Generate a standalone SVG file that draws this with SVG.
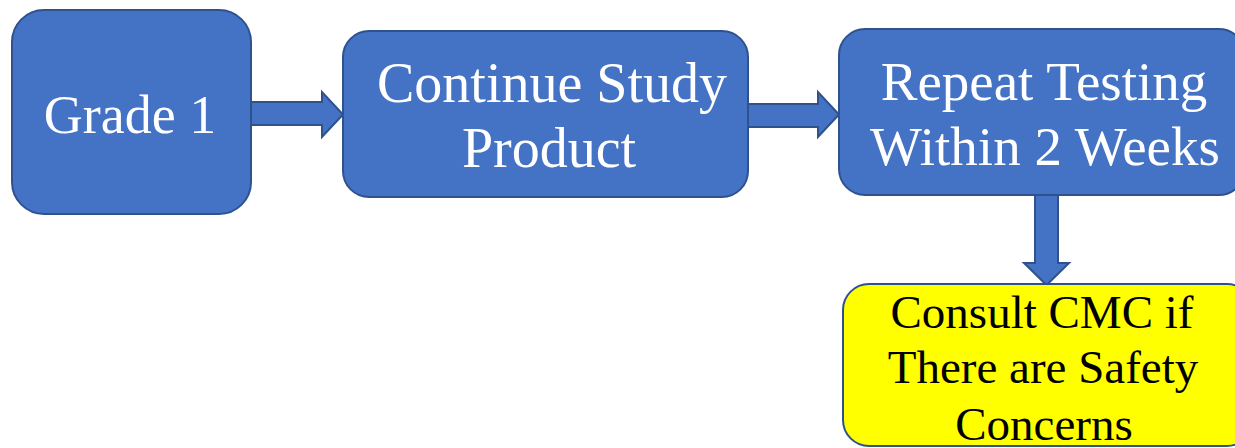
<svg xmlns="http://www.w3.org/2000/svg" width="1235" height="448" viewBox="0 0 1235 448">
  <style>
    .box { fill: #4472C4; stroke: #2F528F; stroke-width: 2; }
    .warn { fill: #FFFF00; stroke: #2F528F; stroke-width: 2; }
    .arrow { fill: #4472C4; stroke: #2F528F; stroke-width: 2; stroke-linejoin: miter; }
    .lbl { fill: #FFFFFF; text-anchor: middle; }
    .lbl-dark { font-size: 47px; fill: #000000; text-anchor: middle; }
  </style>
  <rect width="1235" height="448" fill="#FFFFFF"/>

  <!-- block arrows between steps -->
  <g id="connectors">
    <path class="arrow" d="M251,102 L322,102 L322,92 L343,114.5 L322,137 L322,125 L251,125 Z"/>
    <path class="arrow" d="M748,104 L818,104 L818,92 L839,114.5 L818,137 L818,127 L748,127 Z"/>
    <path class="arrow" d="M1035,195 L1058,195 L1058,263 L1069,263 L1046.5,285 L1024,263 L1035,263 Z"/>
  </g>

  <g font-family="Liberation Serif, serif">
    <g id="grade1">
      <rect class="box" x="12" y="10" width="239" height="204" rx="32" ry="32"/>
      <text class="lbl" x="130" y="133" font-size="54">Grade 1</text>
    </g>

    <g id="continue">
      <rect class="box" x="343" y="31" width="405" height="166" rx="26" ry="26"/>
      <text class="lbl" x="552" y="102" font-size="56">Continue Study</text>
      <text class="lbl" x="549" y="167" font-size="56">Product</text>
    </g>

    <g id="repeat">
      <rect class="box" x="839" y="29" width="406" height="166" rx="26" ry="26"/>
      <text class="lbl" x="1044" y="100" font-size="55">Repeat Testing</text>
      <text class="lbl" x="1045" y="165" font-size="55">Within 2 Weeks</text>
    </g>

    <g id="consult">
      <rect class="warn" x="843" y="284" width="410" height="162" rx="26" ry="26"/>
      <text class="lbl-dark" x="1042" y="328">Consult CMC if</text>
      <text class="lbl-dark" x="1043" y="383">There are Safety</text>
      <text class="lbl-dark" x="1044" y="440">Concerns</text>
    </g>
  </g>
</svg>
